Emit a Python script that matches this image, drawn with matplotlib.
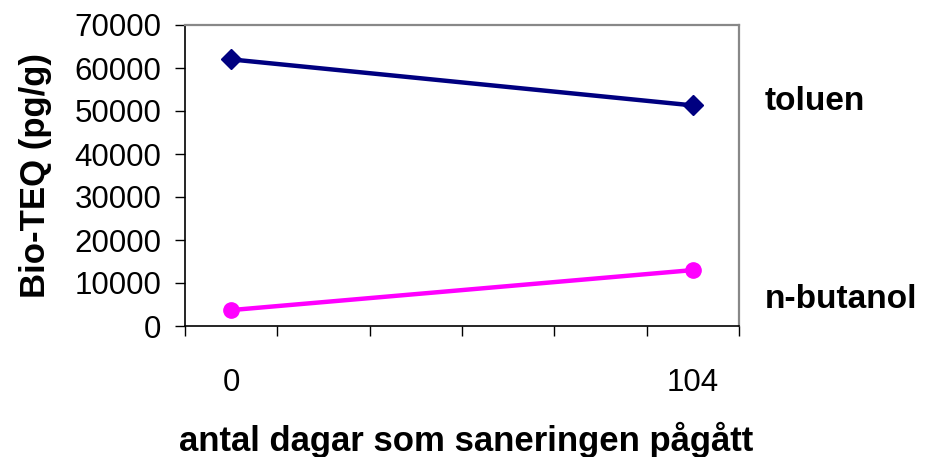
import matplotlib
matplotlib.use("Agg")
import matplotlib.pyplot as plt

plt.rcParams['font.family'] = ['Liberation Sans', 'DejaVu Sans']

# Category axis: sampling days (only first and last carry labels)
categories = ["0", "", "", "", "", "104"]
sample_days = ["0", "104"]
toluen = [62000, 51300]
n_butanol = [3700, 13000]
y_ticks = [0, 10000, 20000, 30000, 40000, 50000, 60000, 70000]

W, H = 931, 457
x0, x1, y0, y1 = 185, 739, 25, 326  # plot area in pixels

fig = plt.figure(figsize=(W / 100, H / 100), dpi=100)
ax = fig.add_axes([x0 / W, 1 - y1 / H, (x1 - x0) / W, (y1 - y0) / H])

pos = [categories.index(d) for d in sample_days]
ax.plot(pos, toluen, color="#000080", lw=3.2, marker="D", ms=10, zorder=3)
ax.plot(pos, n_butanol, color="#FF00FF", lw=3.2, marker="o", ms=11, zorder=3)

ax.set_xlim(-0.5, len(categories) - 0.5)
ax.set_ylim(0, 70000)
ax.set_yticks(y_ticks)
ax.set_yticklabels([str(v) for v in y_ticks], fontsize=22.5)

# ticks on category boundaries, labels at category centres
ax.set_xticks([i - 0.5 for i in range(len(categories) + 1)])
ax.set_xticklabels([])
ax.set_xticks(range(len(categories)), minor=True)
ax.set_xticklabels(categories, minor=True, fontsize=22.5)
ax.tick_params(axis="x", which="minor", length=0, pad=30)
ax.tick_params(axis="x", which="major", length=7, width=1, direction="out", color="black")
ax.tick_params(axis="y", length=7, width=1, direction="out", pad=10)

for side in ("left", "bottom"):
    ax.spines[side].set_color("black")
    ax.spines[side].set_linewidth(1.2)
for side in ("top", "right"):
    ax.spines[side].set_color("#888888")
    ax.spines[side].set_linewidth(1.6)

ax.set_ylabel("Bio-TEQ (pg/g)", fontsize=25, fontweight="bold")
ax.yaxis.set_label_coords((52 - x0) / (x1 - x0), 0.5)
fig.text(466 / W, 1 - 440 / H, "antal dagar som saneringen pågått",
         fontsize=25, fontweight="bold", ha="center", va="center")

fig.text(765 / W, 1 - 102 / H, "toluen", fontsize=24, fontweight="bold",
         ha="left", va="center")
fig.text(765 / W, 1 - 300 / H, "n-butanol", fontsize=24, fontweight="bold",
         ha="left", va="center")

fig.savefig("out.png", dpi=100)
